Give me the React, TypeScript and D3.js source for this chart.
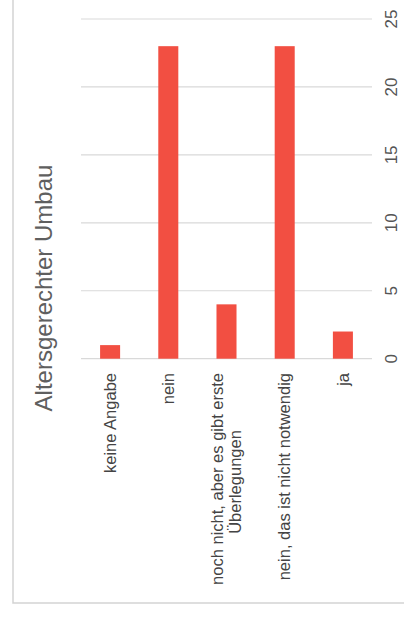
import React from "react";
import * as d3 from "d3";

const categories: string[][] = [
  ["keine Angabe"],
  ["nein"],
  ["noch nicht, aber es gibt erste", "Überlegungen"],
  ["nein, das ist nicht notwendig"],
  ["ja"],
];
const values: number[] = [1, 23, 4, 23, 2];
const ticks: number[] = [0, 5, 10, 15, 20, 25];
const title = "Altersgerechter Umbau";

export default function App() {
  const W = 404, H = 619;
  const keys = categories.map((c) => c.join(" "));
  const x = d3.scaleBand<string>().domain(keys).range([81, 372]).paddingInner(0.656).paddingOuter(0.328);
  const y = d3.scaleLinear().domain([0, 25]).range([358.7, 19]);
  const font = "Arial, 'Liberation Sans', Helvetica, sans-serif";
  return (
    <svg width={W} height={H} style={{ position: "absolute", left: 0, top: 0 }} fontFamily={font}>
      <rect x={0} y={0} width={W} height={H} fill="#fff" />
      <rect x={13} y={-10} width={420} height={613} fill="none" stroke="#d3d3d3" strokeWidth={1.5} />
      {ticks.map((t) => (
        <g key={t}>
          <line x1={81} x2={372} y1={y(t)} y2={y(t)} stroke="#d9d9d9" strokeWidth={1.2} />
          <text transform={`translate(397,${y(t)}) rotate(-90)`} textAnchor="middle" fontSize={17} fill="#555">
            {t}
          </text>
        </g>
      ))}
      {values.map((v, i) => (
        <rect
          key={i}
          x={x(keys[i])}
          width={x.bandwidth()}
          y={y(v)}
          height={y(0) - y(v)}
          fill="#f24f42"
        />
      ))}
      {categories.map((lines, i) => {
        const cx = (x(keys[i]) as number) + x.bandwidth() / 2;
        const lh = 18;
        const off = -((lines.length - 1) * lh) / 2;
        return lines.map((ln, j) => (
          <text
            key={i + "-" + j}
            transform={`translate(${cx + off + j * lh},373) rotate(-90)`}
            textAnchor={lines.length > 1 && j > 0 ? "middle" : "end"}
            dy="0.35em"
            fontSize={16.5}
            fill="#444"
            {...(lines.length > 1 && j > 0 ? { transform: `translate(${cx + off + j * lh},482) rotate(-90)` } : {})}
          >
            {ln}
          </text>
        ));
      })}
      <text transform={`translate(52,288) rotate(-90)`} textAnchor="middle" fontSize={24} fill="#5f5f5f">
        {title}
      </text>
    </svg>
  );
}
